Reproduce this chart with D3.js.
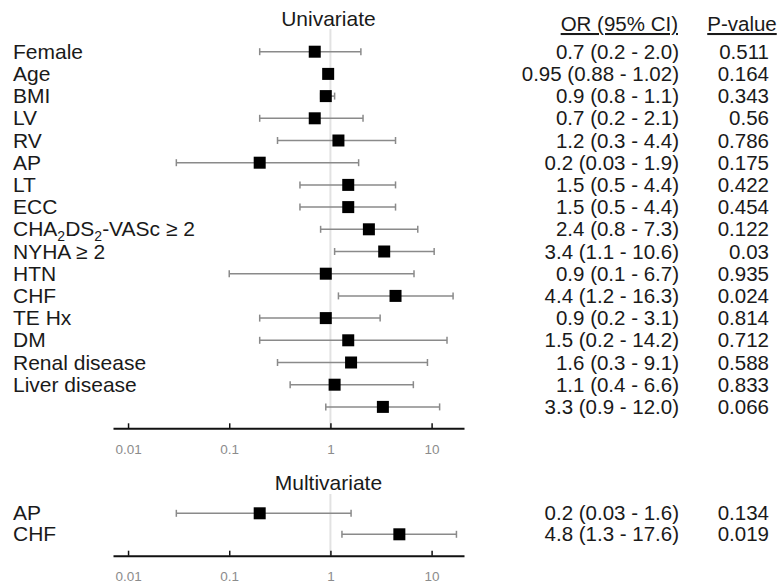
<!DOCTYPE html>
<html>
<head>
<meta charset="utf-8">
<script src="https://cdn.jsdelivr.net/npm/d3@7"></script>
<style>
  body { margin: 0; background: #fff; }
  svg { font-family: "Liberation Sans", Arial, sans-serif; }
</style>
</head>
<body>
<svg id="canvas" width="783" height="587"></svg>
<script>
// univariate rows (last row has no label in the original)
var uni_labels = ['Female', 'Age', 'BMI', 'LV', 'RV', 'AP', 'LT', 'ECC', 'CHA2DS2-VASc ≥ 2', 'NYHA ≥ 2',
                  'HTN', 'CHF', 'TE Hx', 'DM', 'Renal disease', 'Liver disease', ''];
var uni_or = [0.7, 0.95, 0.9, 0.7, 1.2, 0.2, 1.5, 1.5, 2.4, 3.4, 0.9, 4.4, 0.9, 1.5, 1.6, 1.1, 3.3];
var uni_lo = [0.2, 0.88, 0.8, 0.2, 0.3, 0.03, 0.5, 0.5, 0.8, 1.1, 0.1, 1.2, 0.2, 0.2, 0.3, 0.4, 0.9];
var uni_hi = [2.0, 1.02, 1.1, 2.1, 4.4, 1.9, 4.4, 4.4, 7.3, 10.6, 6.7, 16.3, 3.1, 14.2, 9.1, 6.6, 12.0];
var uni_ci_text = ['0.7 (0.2 - 2.0)', '0.95 (0.88 - 1.02)', '0.9 (0.8 - 1.1)', '0.7 (0.2 - 2.1)', '1.2 (0.3 - 4.4)',
                   '0.2 (0.03 - 1.9)', '1.5 (0.5 - 4.4)', '1.5 (0.5 - 4.4)', '2.4 (0.8 - 7.3)', '3.4 (1.1 - 10.6)',
                   '0.9 (0.1 - 6.7)', '4.4 (1.2 - 16.3)', '0.9 (0.2 - 3.1)', '1.5 (0.2 - 14.2)', '1.6 (0.3 - 9.1)',
                   '1.1 (0.4 - 6.6)', '3.3 (0.9 - 12.0)'];
var uni_p = ['0.511', '0.164', '0.343', '0.56', '0.786', '0.175', '0.422', '0.454', '0.122', '0.03',
             '0.935', '0.024', '0.814', '0.712', '0.588', '0.833', '0.066'];

// multivariate rows
var multi_labels = ['AP', 'CHF'];
var multi_or = [0.2, 4.8];
var multi_lo = [0.03, 1.3];
var multi_hi = [1.6, 17.6];
var multi_ci_text = ['0.2 (0.03 - 1.6)', '4.8 (1.3 - 17.6)'];
var multi_p = ['0.134', '0.019'];

var tick_values = [0.01, 0.1, 1, 10];

var svg = d3.select('#canvas');
var x_scale = d3.scaleLog().domain([0.0071, 20.9]).range([113, 464]);

function panel(title, title_y, labels, or, lo, hi, ci_text, p, y_range, axis_y, ref_top){
    var rows = d3.range(labels.length).map(function(i){
        return {label: labels[i], or: or[i], lo: lo[i], hi: hi[i], ci: ci_text[i], p: p[i]};
    });
    var y_scale = d3.scalePoint().domain(d3.range(rows.length)).range(y_range);
    var g = svg.append('g');

    g.append('text')
        .attr('x', x_scale(1) - 2).attr('y', title_y)
        .attr('text-anchor', 'middle')
        .attr('font-size', 21).attr('fill', '#1a1a1a')
        .text(title);

    // reference line at OR = 1
    g.append('line')
        .attr('x1', x_scale(1)).attr('x2', x_scale(1))
        .attr('y1', ref_top).attr('y2', axis_y)
        .attr('stroke', '#e2e2e2').attr('stroke-width', 2);

    var axis = g.append('g')
        .attr('transform', 'translate(0,' + axis_y + ')')
        .call(d3.axisBottom(x_scale).tickValues(tick_values)
              .tickFormat(function(t){ return String(t); })
              .tickSizeInner(-5).tickSizeOuter(0).tickPadding(16));
    axis.select('.domain').attr('stroke', '#111').attr('stroke-width', 2);
    axis.selectAll('.tick line').attr('stroke', '#111').attr('stroke-width', 1.5);
    axis.selectAll('.tick text').attr('fill', '#8c8c8c').attr('font-size', 13.5)
        .attr('font-family', '"Liberation Sans", Arial, sans-serif');

    var row = g.selectAll('.row').data(rows).enter().append('g').attr('class', 'row');

    row.append('line')
        .attr('x1', function(d){ return x_scale(d.lo); })
        .attr('x2', function(d){ return x_scale(d.hi); })
        .attr('y1', function(d, i){ return y_scale(i); })
        .attr('y2', function(d, i){ return y_scale(i); })
        .attr('stroke', '#8a8a8a').attr('stroke-width', 1.5);
    ['lo', 'hi'].forEach(function(k){
        row.append('line')
            .attr('x1', function(d){ return x_scale(d[k]); })
            .attr('x2', function(d){ return x_scale(d[k]); })
            .attr('y1', function(d, i){ return y_scale(i) - 3.5; })
            .attr('y2', function(d, i){ return y_scale(i) + 3.5; })
            .attr('stroke', '#8a8a8a').attr('stroke-width', 1.5);
    });
    row.append('rect')
        .attr('x', function(d){ return x_scale(d.or) - 6; })
        .attr('y', function(d, i){ return y_scale(i) - 6; })
        .attr('width', 12).attr('height', 12)
        .attr('fill', '#000');

    // text columns
    var label = row.append('text')
        .attr('x', 13).attr('y', function(d, i){ return y_scale(i) + 7; })
        .attr('font-size', 21).attr('fill', '#1a1a1a');
    label.each(function(d){
        var t = d3.select(this);
        if(d.label.indexOf('CHA2DS2') === 0){
            t.append('tspan').text('CHA');
            t.append('tspan').attr('font-size', 14).attr('dy', 5).text('2');
            t.append('tspan').attr('dy', -5).text('DS');
            t.append('tspan').attr('font-size', 14).attr('dy', 5).text('2');
            t.append('tspan').attr('dy', -5).text('-VASc ≥ 2');
        } else {
            t.text(d.label);
        }
    });
    row.append('text')
        .attr('x', 679).attr('y', function(d, i){ return y_scale(i) + 7; })
        .attr('text-anchor', 'end')
        .attr('font-size', 20.5).attr('fill', '#1a1a1a')
        .text(function(d){ return d.ci; });
    row.append('text')
        .attr('x', 769).attr('y', function(d, i){ return y_scale(i) + 7; })
        .attr('text-anchor', 'end')
        .attr('font-size', 20.5).attr('fill', '#1a1a1a')
        .text(function(d){ return d.p; });
}

// column headers
svg.append('text').attr('x', 678).attr('y', 31).attr('text-anchor', 'end')
    .attr('font-size', 20.5).attr('fill', '#1a1a1a').attr('text-decoration', 'underline')
    .text('OR (95% CI)');
svg.append('text').attr('x', 742).attr('y', 31).attr('text-anchor', 'middle')
    .attr('font-size', 20.5).attr('fill', '#1a1a1a').attr('text-decoration', 'underline')
    .text('P-value');

panel('Univariate', 26, uni_labels, uni_or, uni_lo, uni_hi, uni_ci_text, uni_p, [51.7, 406.9], 428.3, 29);
panel('Multivariate', 490, multi_labels, multi_or, multi_lo, multi_hi, multi_ci_text, multi_p, [513.3, 534.3], 555.7, 494);
</script>
</body>
</html>
